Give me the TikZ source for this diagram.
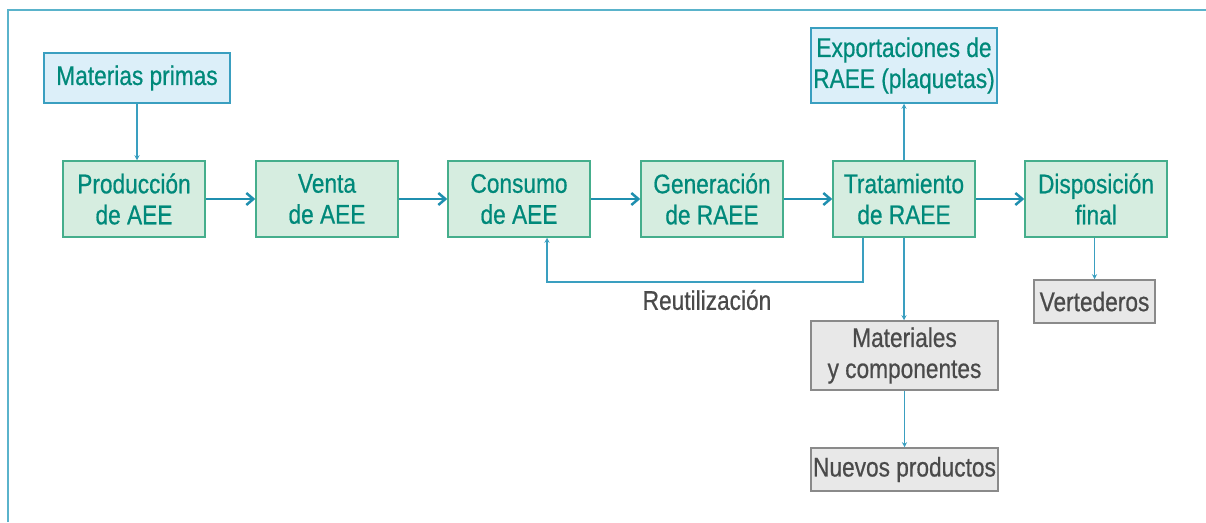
\documentclass[tikz,border=0pt]{standalone}
\usepackage{fontspec}
\setmainfont{Liberation Sans}[FakeStretch=0.84,FakeBold=0.6]
\usetikzlibrary{arrows.meta}
\definecolor{frameblue}{HTML}{5AB3CB}
\definecolor{arrowblue}{HTML}{1F8FAF}
\definecolor{greenfill}{HTML}{D6EDE0}
\definecolor{greenline}{HTML}{45AE8C}
\definecolor{greentext}{HTML}{00897A}
\definecolor{bluefill}{HTML}{DCEFF9}
\definecolor{blueline}{HTML}{3A9FC0}
\definecolor{grayfill}{HTML}{E8E8E8}
\definecolor{grayline}{HTML}{8A8A8A}
\definecolor{graytext}{HTML}{4A4A4A}
\begin{document}
\begin{tikzpicture}[x=1pt,y=-1pt,
  every node/.style={font=\fontsize{27}{31}\selectfont, align=center, inner sep=0pt},
  mainbox/.style={draw=greenline, fill=greenfill, text=greentext, line width=1.5pt, minimum width=142pt, minimum height=76pt},
  bluebox/.style={draw=blueline, fill=bluefill, text=greentext, line width=1.5pt},
  graybox/.style={draw=grayline, fill=grayfill, text=graytext, line width=1.5pt},
  thickarrow/.style={draw=arrowblue, line width=2.5pt, -{Straight Barb[length=7pt,width=12pt,line width=2.5pt]}},
  thinarrow/.style={draw=blueline, line width=1.5pt, -{Stealth[length=5pt,width=5pt]}}
]
\useasboundingbox (0,0) rectangle (1206,522);
\draw[frameblue, line width=2pt] (8,522) -- (8,10) -- (1206,10);

\node[bluebox, minimum width=186pt, minimum height=50pt] (mp) at (137,78) {Materias primas};
\node[bluebox, minimum width=186pt, minimum height=75pt] (exp) at (904,65.5) {Exportaciones de\\RAEE (plaquetas)};

\node[mainbox] (prod) at (134,199) {Producción\\de AEE};
\node[mainbox] (venta) at (327,199) {Venta\\de AEE};
\node[mainbox] (cons) at (519,199) {Consumo\\de AEE};
\node[mainbox] (gen) at (712,199) {Generación\\de RAEE};
\node[mainbox] (trat) at (904,199) {Tratamiento\\de RAEE};
\node[mainbox] (disp) at (1096,199) {Disposición\\final};

\node[graybox, minimum width=187pt, minimum height=69pt] (mat) at (904.5,355.5) {Materiales\\y componentes};
\node[graybox, minimum width=187pt, minimum height=43pt] (nuevos) at (904.5,469.5) {Nuevos productos};
\node[graybox, minimum width=121pt, minimum height=43pt] (vert) at (1094.5,301.5) {Vertederos};

\draw[thickarrow] (prod) -- (venta);
\draw[thickarrow] (venta) -- (cons);
\draw[thickarrow] (cons) -- (gen);
\draw[thickarrow] (gen) -- (trat);
\draw[thickarrow] (trat) -- (disp);

\draw[thinarrow] (mp.south) -- (mp.south |- prod.north);
\draw[thinarrow] (trat.north) -- (exp.south);
\draw[thinarrow] (trat.south) -- (trat.south |- mat.north);
\draw[thinarrow] (mat.south) -- (mat.south |- nuevos.north);
\draw[thinarrow] (vert.north |- disp.south) -- (vert.north);

\coordinate (r1) at ([xshift=-41pt]trat.south);
\coordinate (r2) at ([xshift=28pt]cons.south);
\draw[thinarrow] (r1) -- ++(0,44) -| (r2);
\node[text=graytext] (reut) at (707,300) {Reutilización};
\end{tikzpicture}
\end{document}
